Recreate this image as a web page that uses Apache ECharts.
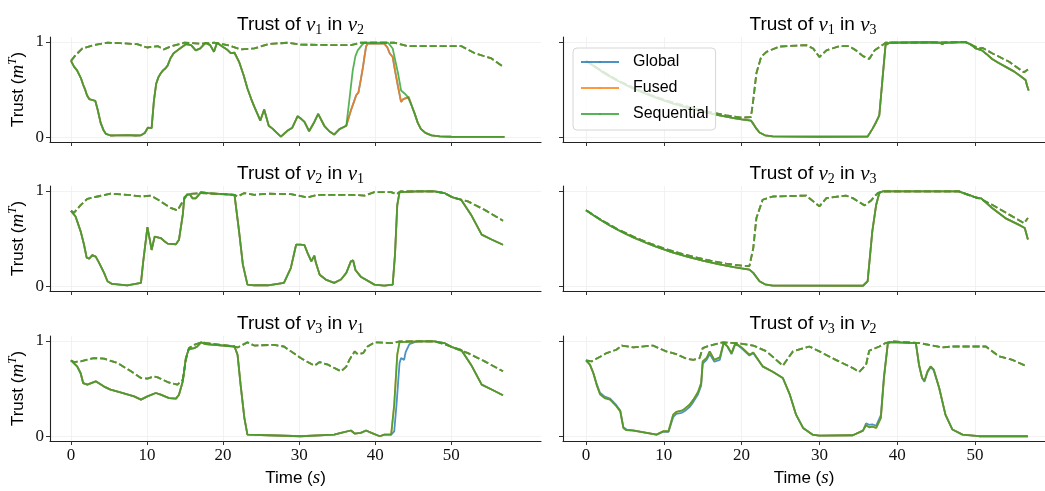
<!DOCTYPE html>
<html><head><meta charset="utf-8">
<script src="https://cdn.jsdelivr.net/npm/echarts@6/dist/echarts.min.js"></script>
<style>html,body{margin:0;padding:0;background:#fff}#c{width:1045px;height:491px}</style>
</head><body><div id="c"></div>
<script>
// ---------- tick labels / categories ----------
const xTicks = [0, 10, 20, 30, 40, 50];
const yTicks = [0, 1];
const methods = ['Global', 'Fused', 'Sequential'];
const panelPairs = [['1','2'], ['1','3'], ['2','1'], ['2','3'], ['3','1'], ['3','2']];

// ---------- Trust of v1 in v2 ----------
const v1in2_head = [[0,0.80],[0.4,0.74],[0.8,0.70],[1.3,0.62],[1.6,0.55],[1.9,0.49],[2.1,0.44],[2.4,0.40],[2.8,0.39],[3.2,0.38],[3.5,0.29],[3.9,0.15],[4.3,0.07],[4.6,0.035],[5.2,0.018],[6.0,0.02],[7.4,0.022],[8.5,0.018],[9.2,0.02],[9.7,0.045],[10.1,0.10],[10.6,0.095],[10.9,0.38],[11.2,0.56],[11.5,0.63],[11.8,0.67],[12.1,0.70],[12.4,0.72],[12.7,0.75],[13.1,0.83],[13.5,0.88],[14.0,0.91],[14.5,0.94],[15.1,0.975],[15.8,0.965],[16.4,0.91],[17.0,0.93],[17.7,0.99],[18.3,0.965],[18.8,0.895],[19.2,0.99],[19.9,0.95],[20.5,0.92],[21.0,0.88],[21.5,0.885],[22.1,0.79],[22.7,0.65],[23.2,0.51],[23.7,0.40],[24.1,0.32],[24.9,0.175],[25.4,0.29],[25.6,0.30],[26.0,0.12],[26.5,0.09],[27.0,0.05],[27.6,0.007],[28.5,0.07],[29.1,0.10],[29.8,0.22],[30.3,0.19],[30.7,0.16],[31.3,0.063],[32.0,0.16],[32.5,0.245],[33.3,0.12],[34.0,0.06],[34.6,0.028],[35.3,0.085],[36.2,0.12]];
const v1in2_seqMid = [[36.6,0.39],[37.05,0.70],[37.4,0.85],[37.7,0.91],[38.3,0.97],[38.6,0.99],[41.7,0.99],[42.3,0.93],[42.7,0.78],[43.0,0.67],[43.4,0.49],[43.9,0.456],[44.3,0.42],[44.8,0.33],[45.2,0.245]];
const v1in2_fusMid = [[36.8,0.28],[37.2,0.37],[37.5,0.44],[37.8,0.47],[38.1,0.60],[38.4,0.74],[38.6,0.85],[38.8,0.95],[39.0,0.98],[41.2,0.98],[41.6,0.94],[41.9,0.88],[42.3,0.84],[42.6,0.70],[43.0,0.53],[43.4,0.37],[43.7,0.40],[43.9,0.42],[44.4,0.42],[44.8,0.33],[45.2,0.245]];
const v1in2_tail = [[45.6,0.15],[46.0,0.088],[46.6,0.045],[47.4,0.02],[48.5,0.008],[50,0.005],[57,0.003]];
const v1in2_dash = [[0,0.80],[0.6,0.86],[1.5,0.93],[3.0,0.965],[4.8,0.99],[6.5,0.985],[8.7,0.975],[10.0,0.94],[11.4,0.955],[12.2,0.92],[13.1,0.95],[14.9,0.99],[17.1,0.98],[18.8,0.99],[20.6,0.965],[22.3,0.92],[24.1,0.93],[25.9,0.975],[28.5,0.99],[30.2,0.97],[34.6,0.965],[36.8,0.965],[38.1,0.99],[42.5,0.99],[44.3,0.955],[51.3,0.955],[53.1,0.88],[55.3,0.825],[56.8,0.74]];

// ---------- Trust of v1 in v3 ----------
const v1in3_decay = [[0,0.80],[1,0.745],[2,0.69],[3,0.64],[4,0.595],[5,0.553],[6,0.515],[7,0.479],[8,0.445],[9,0.414],[10,0.385],[11,0.358],[12,0.334],[13,0.31],[14,0.289],[15,0.269],[16,0.25],[17,0.232],[18,0.216],[19,0.201],[20,0.187],[21.2,0.175]];
const v1in3_solidRest = [[21.5,0.14],[21.9,0.09],[22.3,0.05],[23,0.02],[24,0.008],[30,0.005],[36.2,0.007],[36.8,0.085],[37.3,0.16],[37.7,0.23],[38.1,0.6],[38.5,0.965],[39,0.99],[44,0.995],[45.5,0.99],[45.8,0.975],[46.1,0.99],[48.8,0.996],[49.5,0.97],[50.1,0.93],[50.9,0.91],[51.5,0.87],[52.2,0.82],[53,0.78],[53.9,0.74],[55,0.69],[56,0.63],[56.5,0.6],[56.7,0.54],[56.9,0.49]];
const v1in3_dash = [[0,0.80],[2,0.695],[4,0.60],[6,0.52],[8,0.452],[10,0.393],[12,0.343],[14,0.30],[16,0.262],[18,0.23],[20,0.205],[21.2,0.21],[21.5,0.39],[21.9,0.67],[22.5,0.84],[23.2,0.895],[24.9,0.95],[28.3,0.965],[29.2,0.93],[30,0.84],[30.9,0.91],[32.6,0.955],[33.8,0.955],[34.7,0.91],[35.6,0.85],[36.4,0.82],[37.1,0.91],[38.1,0.965],[38.5,0.99],[48.8,0.996],[50.5,0.93],[51,0.935],[52.2,0.88],[54.4,0.79],[56.3,0.68],[56.8,0.71]];

// ---------- Trust of v2 in v1 ----------
const v2in1_solid = [[0,0.79],[0.6,0.73],[1.27,0.575],[1.7,0.44],[2.06,0.30],[2.4,0.29],[2.8,0.325],[3.25,0.31],[3.7,0.245],[3.9,0.226],[4.35,0.14],[4.8,0.052],[5.4,0.024],[7.4,0.01],[9.2,0.035],[9.5,0.26],[10.05,0.62],[10.4,0.47],[10.6,0.38],[11.0,0.52],[11.8,0.505],[12.2,0.477],[12.7,0.446],[13.8,0.44],[14.2,0.487],[14.7,0.75],[14.9,0.93],[15.3,0.958],[15.6,0.965],[16.0,0.92],[16.4,0.92],[17.1,0.986],[18.0,0.976],[21.5,0.958],[21.7,0.94],[22.1,0.575],[22.6,0.226],[23.2,0.017],[24.1,0.01],[25.9,0.01],[28.0,0.035],[28.9,0.19],[29.6,0.435],[29.8,0.446],[30.2,0.435],[30.7,0.43],[31.1,0.35],[31.6,0.26],[32.0,0.32],[32.2,0.245],[32.7,0.12],[33.5,0.07],[34.6,0.035],[35.5,0.07],[36.2,0.14],[36.8,0.26],[37.1,0.27],[37.4,0.17],[38.1,0.10],[39.9,0.017],[41.2,0.007],[42.3,0.017],[42.6,0.33],[42.9,0.85],[43.2,0.986],[45.6,0.993],[47.8,0.993],[49.1,0.976],[50.2,0.93],[51.3,0.906],[52.6,0.75],[54.0,0.54],[55.3,0.49],[56.8,0.435]];
const v2in1_dash = [[0,0.79],[0.4,0.77],[1.27,0.85],[2.15,0.916],[3.5,0.94],[5.2,0.969],[7.4,0.958],[9.2,0.94],[10.5,0.95],[11.8,0.889],[13.1,0.82],[14.0,0.794],[14.7,0.889],[15.3,0.965],[17.1,0.976],[21.5,0.958],[21.9,0.94],[22.8,0.976],[24.1,0.958],[25.9,0.969],[28.9,0.965],[31.1,0.93],[32.4,0.958],[36.8,0.958],[38.6,0.95],[39.9,0.986],[42.1,0.986],[42.8,0.965],[43.3,0.993],[47.8,0.993],[49.1,0.976],[50.2,0.93],[52.2,0.889],[54.4,0.80],[56.8,0.686]];

// ---------- Trust of v2 in v3 ----------
const v2in3_decay = [[0,0.795],[1,0.74],[2,0.689],[3,0.639],[4,0.595],[5,0.553],[6,0.515],[7,0.479],[8,0.445],[9,0.414],[10,0.385],[11,0.358],[12,0.334],[13,0.31],[14,0.289],[15,0.269],[16,0.25],[17,0.232],[18,0.216],[19,0.201],[20,0.187],[21,0.174]];
const v2in3_solidRest = [[21.5,0.14],[22.3,0.052],[23,0.02],[24,0.007],[35.6,0.005],[36.2,0.052],[36.4,0.226],[36.8,0.575],[37.3,0.854],[37.7,0.976],[38.1,0.993],[47.9,0.993],[49.2,0.958],[50.3,0.923],[50.8,0.92],[52.2,0.82],[53.9,0.714],[55.6,0.645],[56.4,0.61],[56.8,0.49]];
const v2in3_dash = [[0,0.795],[2,0.692],[4,0.60],[6,0.522],[8,0.455],[10,0.396],[12,0.347],[14,0.305],[16,0.268],[18,0.237],[20,0.215],[21,0.21],[21.5,0.40],[21.9,0.714],[22.7,0.906],[24,0.94],[28.3,0.95],[30,0.836],[30.9,0.923],[33.4,0.95],[34.3,0.923],[35.8,0.847],[36.6,0.895],[37.5,0.976],[38.1,0.993],[48,0.993],[49.7,0.94],[50.5,0.923],[52.2,0.854],[54.4,0.75],[56.3,0.66],[56.8,0.714]];

// ---------- Trust of v3 in v1 ----------
const v3in1_head = [[0,0.794],[0.83,0.73],[1.27,0.66],[1.6,0.557],[2.15,0.54],[3.25,0.575],[4.35,0.52],[5.2,0.488],[6.5,0.46],[8.3,0.418],[9.2,0.383],[10.05,0.418],[11.15,0.453],[11.8,0.435],[12.9,0.40],[13.8,0.394],[14.2,0.435],[14.7,0.575],[15.1,0.819],[15.5,0.913],[16.2,0.923],[16.6,0.94],[17.1,0.983],[17.7,0.965],[21.5,0.94],[21.9,0.854],[22.3,0.54],[22.8,0.19],[23.2,0.017],[26,0.01],[30.2,0.0],[34.6,0.017],[35.5,0.035],[36.8,0.06],[37.3,0.028],[38.1,0.035],[38.8,0.06],[39.5,0.035],[40.6,0.0],[41.2,0.017],[42.1,0.017]];
const v3in1_seqMid = [[42.5,0.33],[42.9,0.854],[43.2,0.986]];
const v3in1_gloMid = [[42.5,0.05],[42.8,0.33],[43.2,0.767],[43.4,0.82],[43.6,0.836],[43.8,0.80],[44.0,0.88],[44.5,0.965],[45.2,0.986]];
const v3in1_tail = [[45.6,0.993],[47.8,0.993],[49.1,0.976],[50.2,0.93],[51.3,0.906],[52.6,0.75],[54.0,0.54],[55.3,0.49],[56.8,0.43]];
const v3in1_dash = [[0,0.794],[0.4,0.777],[1.27,0.784],[3.03,0.819],[4.35,0.812],[6.1,0.767],[7.9,0.68],[9.2,0.61],[10.05,0.603],[10.9,0.627],[11.4,0.617],[12.7,0.568],[14.0,0.54],[14.7,0.592],[15.1,0.80],[15.5,0.923],[16.2,0.958],[17.1,0.983],[21.5,0.94],[21.9,0.93],[23.2,0.983],[24.1,0.95],[26.7,0.958],[28.0,0.94],[30.2,0.819],[32.0,0.739],[32.7,0.777],[33.8,0.749],[35.5,0.68],[36.2,0.73],[36.6,0.80],[37.3,0.889],[37.7,0.86],[38.4,0.87],[39.0,0.94],[39.9,0.983],[42.3,0.976],[43.2,0.993],[47.8,0.993],[49.1,0.965],[50.2,0.93],[52.2,0.87],[54.4,0.784],[56.8,0.68]];

// ---------- Trust of v3 in v2 ----------
const v3in2_seq = [[0,0.794],[0.5,0.75],[0.94,0.66],[1.4,0.53],[1.8,0.44],[2.4,0.40],[3.1,0.383],[3.9,0.314],[4.4,0.26],[4.8,0.087],[5.2,0.063],[6.1,0.059],[7.8,0.035],[9.06,0.017],[9.9,0.052],[10.6,0.052],[11.2,0.226],[11.6,0.254],[12.3,0.268],[12.7,0.289],[13.3,0.33],[13.8,0.383],[14.4,0.463],[14.8,0.557],[15.0,0.784],[15.5,0.819],[15.9,0.889],[16.5,0.80],[17.2,0.826],[17.7,0.983],[18.2,0.94],[18.7,0.871],[19.2,0.976],[20.0,0.93],[21.0,0.854],[21.5,0.878],[22.7,0.732],[24,0.675],[25.3,0.61],[25.5,0.60],[26.2,0.435],[27.0,0.226],[27.9,0.087],[29.1,0.017],[30,0.007],[34.3,0.01],[35.6,0.059],[36.0,0.115],[36.4,0.094],[36.8,0.1],[37.3,0.087],[37.9,0.19],[38.3,0.61],[38.8,0.976],[39.2,0.986],[42.4,0.976],[42.8,0.749],[43.2,0.61],[43.5,0.582],[43.9,0.68],[44.3,0.732],[44.7,0.697],[45.4,0.505],[46.2,0.226],[47.1,0.07],[48.4,0.017],[50.5,0.0],[56.8,0.0]];
const v3in2_glo = [[0,0.794],[0.5,0.75],[0.94,0.665],[1.4,0.54],[1.8,0.455],[2.4,0.415],[3.1,0.395],[3.9,0.325],[4.4,0.27],[4.8,0.095],[5.2,0.07],[6.1,0.062],[7.8,0.035],[9.06,0.017],[9.9,0.045],[10.6,0.045],[11.2,0.20],[11.6,0.235],[12.3,0.245],[12.7,0.265],[13.3,0.305],[13.8,0.36],[14.4,0.44],[14.8,0.53],[15.0,0.76],[15.5,0.80],[15.9,0.86],[16.5,0.78],[17.2,0.80],[17.7,0.975],[18.2,0.935],[18.7,0.86],[19.2,0.97],[20.0,0.92],[21.0,0.845],[21.5,0.87],[22.7,0.732],[24,0.675],[25.3,0.61],[25.5,0.60],[26.2,0.435],[27.0,0.226],[27.9,0.087],[29.1,0.017],[30,0.007],[34.3,0.01],[35.6,0.059],[36.0,0.135],[36.4,0.12],[36.8,0.125],[37.3,0.11],[37.9,0.22],[38.3,0.63],[38.8,0.976],[39.2,0.986],[42.4,0.976],[42.8,0.749],[43.2,0.61],[43.5,0.57],[43.9,0.67],[44.3,0.725],[44.7,0.69],[45.4,0.505],[46.2,0.226],[47.1,0.07],[48.4,0.017],[50.5,0.0],[56.8,0.0]];
const v3in2_dash = [[0,0.794],[0.73,0.784],[2.65,0.871],[3.9,0.906],[4.6,0.95],[6.1,0.93],[8.6,0.95],[10.3,0.889],[11.6,0.86],[12.9,0.812],[13.8,0.80],[14.6,0.819],[15.0,0.923],[15.9,0.95],[17.6,0.983],[19.3,0.976],[21.5,0.95],[23.2,0.889],[25.3,0.739],[26.6,0.889],[28.7,0.94],[30.0,0.889],[32.1,0.80],[34.3,0.714],[35.1,0.672],[36.0,0.749],[36.4,0.895],[37.7,0.94],[38.5,0.976],[39.4,0.993],[42.8,0.976],[44.1,0.958],[45.8,0.93],[47.1,0.94],[51.4,0.94],[53.1,0.836],[54.8,0.80],[56.7,0.73]];

// ---------- assemble per-panel data ----------
const panels = [
  { glo: v1in2_head.concat(v1in2_fusMid, v1in2_tail), fus: v1in2_head.concat(v1in2_fusMid, v1in2_tail), seq: v1in2_head.concat(v1in2_seqMid, v1in2_tail), dash: v1in2_dash },
  { glo: v1in3_decay.concat(v1in3_solidRest), fus: v1in3_decay.concat(v1in3_solidRest), seq: v1in3_decay.concat(v1in3_solidRest), dash: v1in3_dash },
  { glo: v2in1_solid, fus: v2in1_solid, seq: v2in1_solid, dash: v2in1_dash },
  { glo: v2in3_decay.concat(v2in3_solidRest), fus: v2in3_decay.concat(v2in3_solidRest), seq: v2in3_decay.concat(v2in3_solidRest), dash: v2in3_dash },
  { glo: v3in1_head.concat(v3in1_gloMid, v3in1_tail), fus: v3in1_head.concat(v3in1_seqMid, v3in1_tail), seq: v3in1_head.concat(v3in1_seqMid, v3in1_tail), dash: v3in1_dash },
  { glo: v3in2_glo, fus: v3in2_seq, seq: v3in2_seq, dash: v3in2_dash }
];

// ---------- layout / style ----------
const COLORS = { Global: 'rgba(31,119,180,0.8)', Fused: 'rgba(255,127,14,0.8)', Sequential: 'rgba(44,160,44,0.8)' };
const cols = [ { left: 50, width: 491, min: -2.76, max: 61.8, cx: 295.5 }, { left: 563, width: 482, min: -2.96, max: 59.0, cx: 808 } ];
const rows = [ { top: 37, titleTop: 8 }, { top: 186, titleTop: 157 }, { top: 336, titleTop: 307 } ];
const GH = 105;
const SANS = 'Liberation Sans';
const SERIF = 'Liberation Serif';
const richText = {
  n: { fontFamily: SANS, fontSize: 19, fontWeight: 'normal', color: '#000', lineHeight: 24, verticalAlign: 'middle' },
  m: { fontFamily: SERIF, fontStyle: 'italic', fontWeight: 'normal', fontSize: 21, color: '#000', lineHeight: 24, verticalAlign: 'middle' },
  s: { fontFamily: SERIF, fontSize: 14, fontWeight: 'normal', color: '#000', lineHeight: 14, verticalAlign: 'bottom' }
};
const axisRich = {
  n: { fontFamily: SANS, fontSize: 17, fontWeight: 'normal', color: '#000', lineHeight: 24, verticalAlign: 'middle' },
  m: { fontFamily: SERIF, fontStyle: 'italic', fontWeight: 'normal', fontSize: 19, color: '#000', lineHeight: 24, verticalAlign: 'middle' },
  p: { fontFamily: SERIF, fontStyle: 'italic', fontWeight: 'normal', fontSize: 13, color: '#000', lineHeight: 14, verticalAlign: 'top' }
};

const grid = [], xAxis = [], yAxis = [], series = [], title = [];
for (let i = 0; i < 6; i++) {
  const c = cols[i % 2], r = rows[Math.floor(i / 2)];
  const bottomRow = i >= 4, leftCol = i % 2 === 0;
  grid.push({ left: c.left, top: r.top, width: c.width, height: GH, containLabel: false });
  title.push({
    text: '{n|Trust of }{m|v}{s|' + panelPairs[i][0] + '}{n| in }{m|v}{s|' + panelPairs[i][1] + '}',
    left: c.cx, top: r.titleTop, textAlign: 'center',
    textStyle: { fontWeight: 'normal', rich: richText }
  });
  xAxis.push({
    type: 'value', gridIndex: i, min: c.min, max: c.max,
    axisLine: { show: true, onZero: false, lineStyle: { color: '#222', width: 1.1 } },
    axisTick: { show: true, customValues: xTicks, length: 4, lineStyle: { color: '#333', width: 1 } },
    axisLabel: { show: bottomRow, customValues: xTicks, margin: 6, fontFamily: SERIF, fontSize: 17, color: '#111' },
    splitLine: { show: true, lineStyle: { color: '#efefef', width: 0.8 } },
    name: bottomRow ? '{n|Time (}{m|s}{n|)}' : '', nameLocation: 'middle', nameGap: 25,
    nameTextStyle: { rich: axisRich }
  });
  yAxis.push({
    type: 'value', gridIndex: i, min: -0.05, max: 1.05,
    axisLine: { show: true, onZero: false, lineStyle: { color: '#222', width: 1.1 } },
    axisTick: { show: true, customValues: yTicks, length: 4, lineStyle: { color: '#333', width: 1 } },
    axisLabel: { show: leftCol, customValues: yTicks, margin: 6, fontFamily: SERIF, fontSize: 17, color: '#111' },
    splitLine: { show: true, lineStyle: { color: '#efefef', width: 0.8 } },
    name: leftCol ? '{n|Trust (}{m|m}{p|T}{n|)}' : '', nameLocation: 'middle', nameRotate: 90, nameGap: 20,
    nameTextStyle: { rich: axisRich }
  });
  const p = panels[i];
  const list = [['Global', p.glo], ['Fused', p.fus], ['Sequential', p.seq]];
  list.forEach(([name, data]) => {
    const base = { type: 'line', name, xAxisIndex: i, yAxisIndex: i, symbol: 'none', showSymbol: false, silent: true, animation: false, itemStyle: { color: COLORS[name] } };
    series.push(Object.assign({}, base, { data, lineStyle: { color: COLORS[name], width: 1.8 } }));
    series.push(Object.assign({}, base, { data: p.dash, lineStyle: { color: COLORS[name], width: 1.8, type: [7, 3] } }));
  });
}

const chart = echarts.init(document.getElementById('c'), null, { renderer: 'canvas' });
chart.setOption({
  animation: false,
  backgroundColor: '#fff',
  title, grid, xAxis, yAxis, series,
  legend: {
    data: methods, orient: 'vertical', left: 573, top: 48,
    itemWidth: 38, itemHeight: 2, itemGap: 8,
    padding: [5, 7, 7, 7],
    backgroundColor: 'rgba(255,255,255,0.8)', borderColor: '#d6d6d6', borderWidth: 1, borderRadius: 4,
    textStyle: { fontFamily: SANS, fontSize: 16, color: '#000', lineHeight: 18, padding: [0, 0, 0, 9] }
  }
});
</script></body></html>
